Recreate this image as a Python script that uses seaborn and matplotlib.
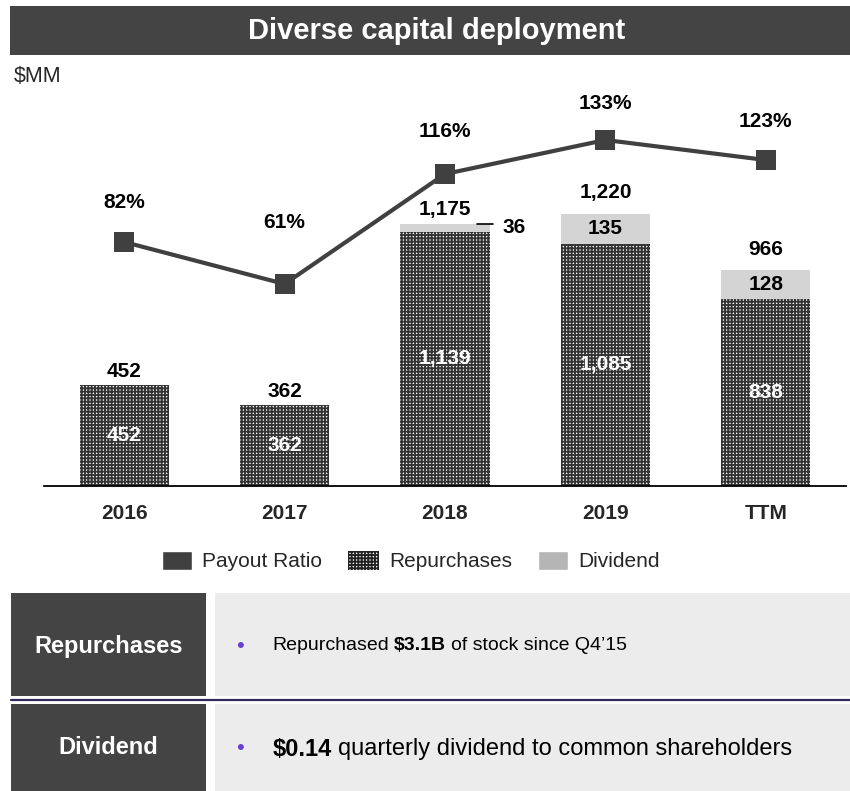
import numpy as np
import pandas as pd
import matplotlib.pyplot as plt
import seaborn as sns
from matplotlib.patches import Patch, Rectangle

# chart data ($MM)
years = ['2016', '2017', '2018', '2019', 'TTM']
repurchases = [452, 362, 1139, 1085, 838]
dividend = [0, 0, 36, 135, 128]
payout_ratio = [82, 61, 116, 133, 123]

df = pd.DataFrame({'Year': years, 'Repurchases': repurchases,
                   'Dividend': dividend, 'Payout': payout_ratio})
df['Total'] = df['Repurchases'] + df['Dividend']

sns.set_theme(style='white')
plt.rcParams['font.family'] = ['Liberation Sans', 'DejaVu Sans']
plt.rcParams['hatch.color'] = '#333333'
plt.rcParams['hatch.linewidth'] = 1.35

W, H = 850, 791
fig = plt.figure(figsize=(8.5, 7.91), dpi=100)

# background canvas in pixel coordinates (title band + bottom panels)
bg = fig.add_axes([0, 0, 1, 1], zorder=0)
bg.set_xlim(0, W)
bg.set_ylim(H, 0)
bg.axis('off')

DARK = '#444444'
LIGHT = '#ececec'
HATCH = '+++++'

bg.add_patch(Rectangle((10, 6), 840, 49, color=DARK, lw=0))
bg.text(437, 31, 'Diverse capital deployment', color='white', fontsize=21,
        fontweight='bold', ha='center', va='center')
bg.text(14, 77, '$MM', fontsize=15.5, ha='left', va='center')

# main chart
ax = fig.add_axes([44 / W, (H - 486) / H, 802 / W, 396 / H], zorder=2)
ax.patch.set_alpha(0)
sns.barplot(data=df, x='Year', y='Total', color='#d4d4d4', width=0.555,
            saturation=1, linewidth=0, ax=ax)
sns.barplot(data=df, x='Year', y='Repurchases', color='white', width=0.555,
            saturation=1, hatch=HATCH, edgecolor='#333333', linewidth=0, ax=ax)

ax.set_ylim(0, 1774)
ax.set_xlabel('')
ax.set_ylabel('')
ax.set_yticks([])
for s in ['left', 'right', 'top']:
    ax.spines[s].set_visible(False)
ax.spines['bottom'].set_color('black')
ax.spines['bottom'].set_linewidth(1.3)
ax.tick_params(axis='x', length=0, pad=13, labelsize=15)
for lbl in ax.get_xticklabels():
    lbl.set_fontweight('bold')

total_gap = [63, 63, 63, 95, 95]
for i, (rep, div, tot) in enumerate(zip(df['Repurchases'], df['Dividend'], df['Total'])):
    ax.text(i, tot + total_gap[i], f'{tot:,}', ha='center', va='center',
            fontsize=15, fontweight='bold', color='black')
    ax.text(i, rep / 2, f'{rep:,}', ha='center', va='center',
            fontsize=15, fontweight='bold', color='white')
    if div == 0:
        continue
    if div >= 60:
        ax.text(i, rep + div / 2, f'{div}', ha='center', va='center',
                fontsize=15, fontweight='bold', color='black')
    else:
        ax.plot([i + 0.2, i + 0.3], [tot, tot], color='black', lw=1.2)
        ax.text(i + 0.36, rep + div / 2, f'{div}', ha='left', va='center',
                fontsize=15, fontweight='bold', color='black')

# payout ratio line on a second axis
ax2 = ax.twinx()
pos = np.arange(len(years))
sns.lineplot(x=pos, y=df['Payout'], ax=ax2, color='#404040', linewidth=3,
             marker='s', markersize=14, markeredgewidth=0)
ax2.set_ylim(-40, 158)
ax2.set_yticks([])
ax2.set_ylabel('')
for s in ax2.spines.values():
    s.set_visible(False)
pct_gap = [19.5, 30.5, 21, 18, 19]
for i, p in enumerate(df['Payout']):
    ax2.text(i, p + pct_gap[i], f'{p}%', ha='center', va='center',
             fontsize=15, fontweight='bold', color='black')
ax.set_xlim(-0.5, 4.5)

# legend
handles = [Patch(facecolor='#404040', label='Payout Ratio'),
           Patch(facecolor='white', hatch=HATCH, edgecolor='#222222', linewidth=0,
                 label='Repurchases'),
           Patch(facecolor='#b5b5b5', label='Dividend')]
fig.legend(handles=handles, ncol=3, loc='center', bbox_to_anchor=(411 / W, 1 - 561 / H),
           frameon=False, fontsize=15, handlelength=1.45, handleheight=1.06,
           handletextpad=0.5, columnspacing=1.25)

# bottom panels
bg.add_patch(Rectangle((11, 593), 195, 103, color=DARK, lw=0))
bg.add_patch(Rectangle((215, 593), 635, 103, color=LIGHT, lw=0))
bg.plot([11, 850], [699.5, 699.5], color='#33285c', lw=1.6)
bg.add_patch(Rectangle((11, 704), 195, 87, color=DARK, lw=0))
bg.add_patch(Rectangle((215, 704), 635, 87, color=LIGHT, lw=0))

bg.text(108.5, 646, 'Repurchases', color='white', fontsize=17, fontweight='bold',
        ha='center', va='center')
bg.text(108.5, 747, 'Dividend', color='white', fontsize=17, fontweight='bold',
        ha='center', va='center')

renderer = fig.canvas.get_renderer()


def rich_text(x, y, parts, size=14, gap=5):
    for txt, weight in parts:
        t = bg.text(x, y, txt, fontsize=size, fontweight=weight, ha='left',
                    va='center', color='black')
        bb = t.get_window_extent(renderer)
        x = bb.x1 + gap


for y in [646, 749]:
    bg.text(240, y, '\u2022', color='#6a3fd0', fontsize=16, ha='center', va='center')

rich_text(272, 646, [('Repurchased', 'normal'), ('$3.1B', 'bold'),
                     ('of stock since Q4\u201915', 'normal')], size=14, gap=5)
rich_text(273, 749, [('$0.14', 'bold'),
                     ('quarterly dividend to common shareholders', 'normal')],
          size=17, gap=6)

fig.savefig('out.png', dpi=100)
